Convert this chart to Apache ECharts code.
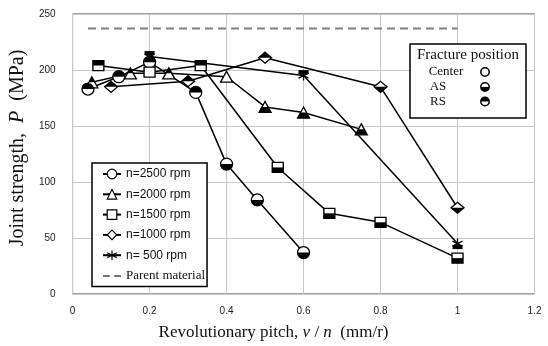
<!DOCTYPE html>
<html><head><meta charset="utf-8">
<script src="https://cdn.jsdelivr.net/npm/echarts@6/dist/echarts.min.js"></script>
<style>html,body{margin:0;padding:0;background:#fff}#c{width:548px;height:346px}</style>
</head><body><div id="c"></div>
<script>
// ---- data ----
const seriesNames = ['n=2500 rpm','n=2000 rpm','n=1500 rpm','n=1000 rpm','n= 500 rpm'];
const pitch2500 = [0.04, 0.12, 0.2, 0.32, 0.4, 0.48, 0.6];
const strength2500 = [183, 194, 207, 180, 116, 84, 37];
const frac2500 = ['RS','RS','RS','RS','AS','AS','AS'];
const pitch2000 = [0.05, 0.15, 0.25, 0.4, 0.5, 0.6, 0.75];
const strength2000 = [189, 197, 197, 194, 167, 162, 147];
const frac2000 = ['RS','RS','RS','C','AS','AS','AS'];
const pitch1500 = [0.067, 0.2, 0.333, 0.533, 0.667, 0.8, 1.0];
const strength1500 = [204, 198, 204, 113, 72, 64, 32];
const frac1500 = ['RS','C','RS','AS','AS','AS','AS'];
const pitch1000 = [0.1, 0.3, 0.5, 0.8, 1.0];
const strength1000 = [185, 190, 211, 185, 77];
const frac1000 = ['RS','RS','RS','AS','AS'];
const pitch500 = [0.2, 0.6, 1.0];
const strength500 = [212, 195, 45];
const frac500 = ['RS','RS','AS'];
const parentName = 'Parent material';
const parentPitch = [0.04, 1.0];
const parentStrength = [237, 237];
const xTicks = ['0','0.2','0.4','0.6','0.8','1','1.2'];
const yTicks = ['0','50','100','150','200','250'];
const fractureLabels = ['Center','AS','RS'];

// ---- styles ----
const shapes = ['circle','triangle','rect','diamond','star'];
const starPath = 'path://M5,0L5,10M0.67,2.5L9.33,7.5M0.67,7.5L9.33,2.5';
const symbolOf = {circle:'circle', triangle:'triangle', rect:'rect', diamond:'diamond', star:starPath};
const sizeOf = {circle:[12,12], triangle:[12,11], rect:[11,10], diamond:[13,11], star:[10,10]};
const groups = [
  [pitch2500, strength2500, frac2500],
  [pitch2000, strength2000, frac2000],
  [pitch1500, strength1500, frac1500],
  [pitch1000, strength1000, frac1000],
  [pitch500, strength500, frac500]
];

const series = [];
groups.forEach((g, k) => {
  const sh = shapes[k];
  series.push({
    name: seriesNames[k], type: 'line',
    data: g[0].map((x, i) => [x, g[1][i]]),
    symbol: symbolOf[sh], symbolSize: sizeOf[sh],
    lineStyle: {color: '#000', width: 1.5},
    itemStyle: {color: '#fff', borderColor: '#000', borderWidth: 1.3},
    z: 3, animation: false
  });
});
series.push({
  name: parentName, type: 'line',
  data: parentPitch.map((x, i) => [x, parentStrength[i]]),
  symbol: 'none',
  lineStyle: {color: '#808080', width: 2, type: [8, 5]},
  itemStyle: {color: '#444'},
  z: 2, animation: false
});

// half-filled overlays for fracture position
const halfData = [];
groups.forEach((g, k) => {
  g[0].forEach((x, i) => {
    const f = g[2][i] === 'AS' ? 1 : (g[2][i] === 'RS' ? 2 : 0);
    if (f) halfData.push([x, g[1][i], k, f]);
  });
});
function shapePoly(sh, w, h) {
  if (sh === 'circle') {
    const pts = [];
    for (let a = 0; a < 36; a++) { const t = a / 36 * Math.PI * 2; pts.push([Math.cos(t) * w / 2, Math.sin(t) * h / 2]); }
    return pts;
  }
  if (sh === 'triangle') return [[0, -h/2], [w/2, h/2], [-w/2, h/2]];
  if (sh === 'diamond') return [[0, -h/2], [w/2, 0], [0, h/2], [-w/2, 0]];
  return [[-w/2, -h/2], [w/2, -h/2], [w/2, h/2], [-w/2, h/2]];
}
function clipHalf(pts, bottom) {
  const inside = p => bottom ? p[1] >= 0 : p[1] <= 0;
  const out = [];
  for (let i = 0; i < pts.length; i++) {
    const a = pts[i], b = pts[(i + 1) % pts.length];
    const ia = inside(a), ib = inside(b);
    if (ia) out.push(a);
    if (ia !== ib) { const t = a[1] / (a[1] - b[1]); out.push([a[0] + t * (b[0] - a[0]), 0]); }
  }
  return out;
}
series.push({
  type: 'custom', name: 'fracture', data: halfData, z: 5, animation: false, silent: true,
  renderItem: function (params, api) {
    const c = api.coord([api.value(0), api.value(1)]);
    const sh = shapes[api.value(2)];
    const bottom = api.value(3) === 1;
    const sz = sizeOf[sh];
    let pts;
    if (sh === 'star') {
      pts = bottom ? [[-5, 1.5], [5, 1.5], [5, 5.5], [-5, 5.5]] : [[-5, -5.5], [5, -5.5], [5, -1.5], [-5, -1.5]];
    } else {
      pts = clipHalf(shapePoly(sh, sz[0], sz[1]), bottom);
    }
    return {type: 'polygon', shape: {points: pts.map(p => [c[0] + p[0], c[1] + p[1]])}, style: {fill: '#000'}};
  }
});

const chart = echarts.init(document.getElementById('c'), null, {renderer: 'canvas'});
const fx = 485, rows = [72, 87, 101.5];
const legendData = seriesNames.map(n => ({name: n}));
legendData.push({name: parentName, icon: 'path://M0,0L6,0L6,1.2L0,1.2ZM10,0L16,0L16,1.2L10,1.2Z', itemStyle: {color: '#444'}});
chart.setOption({
  animation: false,
  grid: {left: 72, right: 13.5, top: 14, bottom: 48, show: true, borderColor: '#444', borderWidth: 1},
  xAxis: {
    type: 'value', min: 0, max: 1.2, interval: 0.2,
    axisLine: {show: false}, axisTick: {show: false},
    splitLine: {lineStyle: {color: '#c8c8c8', width: 1}},
    axisLabel: {margin: 12, color: '#222', fontFamily: 'Liberation Sans', fontSize: 10,
      formatter: v => xTicks[Math.round(v / 0.2)]},
    name: '{t|Revolutionary pitch, }{i|v}{t| / }{i|n}{t|  (mm/r)}', nameLocation: 'middle', nameGap: 30,
    nameTextStyle: {padding: [0, 60, 0, 0], rich: {
      t: {fontFamily: 'Liberation Serif', fontSize: 17, color: '#111'},
      i: {fontFamily: 'Liberation Serif', fontSize: 17, fontStyle: 'italic', color: '#111'}}}
  },
  yAxis: {
    type: 'value', min: 0, max: 250, interval: 50,
    axisLine: {show: false}, axisTick: {show: false},
    splitLine: {lineStyle: {color: '#c8c8c8', width: 1}},
    axisLabel: {margin: 17, color: '#222', fontFamily: 'Liberation Sans', fontSize: 10,
      formatter: v => yTicks[Math.round(v / 50)]},
    name: '{t|Joint strength,  }{i|P}{t|  (MPa)}', nameLocation: 'middle', nameGap: 36,
    nameTextStyle: {padding: [0, 0, 0, 12], rich: {
      t: {fontFamily: 'Liberation Serif', fontSize: 20, color: '#111'},
      i: {fontFamily: 'Liberation Serif', fontSize: 20, fontStyle: 'italic', color: '#111'}}}
  },
  legend: {
    data: legendData,
    orient: 'vertical', left: 92, top: 163,
    padding: [5, 2, 4, 10], itemGap: 8.3, itemWidth: 18, itemHeight: 12,
    backgroundColor: '#fff', borderColor: '#000', borderWidth: 1.5,
    formatter: n => n === parentName ? '{s|' + n + '}' : n,
    textStyle: {color: '#111', fontFamily: 'Liberation Sans', fontSize: 12, lineHeight: 12,
      rich: {s: {fontFamily: 'Liberation Serif', fontSize: 13, color: '#111'}}},
    itemStyle: {borderWidth: 1.2}
  },
  graphic: [
    {type: 'rect', shape: {x: 410, y: 44, width: 116, height: 74}, style: {fill: '#fff', stroke: '#000', lineWidth: 1.5}, z: 10},
    {type: 'text', x: 468, y: 55, style: {text: 'Fracture position', fill: '#111', font: '15px "Liberation Serif"', textAlign: 'center', textVerticalAlign: 'middle'}, z: 11},
    {type: 'text', x: 446, y: rows[0], style: {text: fractureLabels[0], fill: '#111', font: '13px "Liberation Serif"', textAlign: 'center', textVerticalAlign: 'middle'}, z: 11},
    {type: 'text', x: 438, y: rows[1], style: {text: fractureLabels[1], fill: '#111', font: '13px "Liberation Serif"', textAlign: 'center', textVerticalAlign: 'middle'}, z: 11},
    {type: 'text', x: 438, y: rows[2], style: {text: fractureLabels[2], fill: '#111', font: '13px "Liberation Serif"', textAlign: 'center', textVerticalAlign: 'middle'}, z: 11},
    {type: 'circle', shape: {cx: fx, cy: rows[0], r: 4.2}, style: {fill: '#fff', stroke: '#000', lineWidth: 1.5}, z: 11},
    {type: 'circle', shape: {cx: fx, cy: rows[1], r: 4.2}, style: {fill: '#fff', stroke: '#000', lineWidth: 1.5}, z: 11},
    {type: 'sector', shape: {cx: fx, cy: rows[1], r: 4.2, r0: 0, startAngle: 0, endAngle: Math.PI}, style: {fill: '#000'}, z: 12},
    {type: 'circle', shape: {cx: fx, cy: rows[2], r: 4.2}, style: {fill: '#fff', stroke: '#000', lineWidth: 1.5}, z: 11},
    {type: 'sector', shape: {cx: fx, cy: rows[2], r: 4.2, r0: 0, startAngle: Math.PI, endAngle: Math.PI * 2}, style: {fill: '#000'}, z: 12}
  ],
  series: series
});
</script></body></html>
